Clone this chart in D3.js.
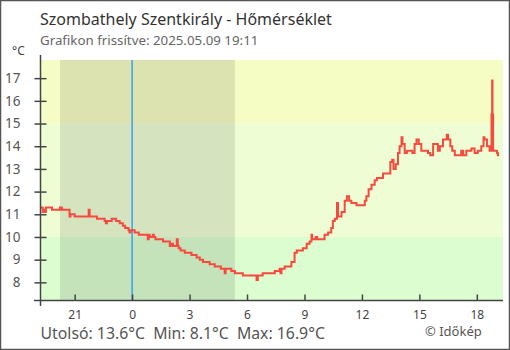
<!DOCTYPE html>
<html>
<head>
<meta charset="utf-8">
<script src="https://cdn.jsdelivr.net/npm/d3@7"></script>
<style>
  html, body { margin: 0; padding: 0; background: #fff; }
  svg { display: block; font-family: "Noto Sans", "Open Sans", sans-serif; }
</style>
</head>
<body>
<svg id="chart" width="510" height="350"></svg>
<script>
// Station readings, 2025-05-08 19:13 → 2025-05-09 19:10 (local time, HH:MM)
const times = [
  "19:13","19:20","19:24","19:27","19:30","19:49","20:14","20:20","20:44","20:47",
  "21:00","21:41","21:44","21:47","22:10","22:23","22:34","22:38","22:41","22:49",
  "22:56","23:10","23:21","23:31","23:38","23:49","23:52","23:55","00:08","00:21",
  "00:49","00:52","00:55","01:05","01:08","01:13","01:37","01:58","02:01","02:08",
  "02:20","02:23","02:26","02:32","02:45","03:06","03:22","03:32","03:42","04:03",
  "04:19","04:38","04:50","04:53","05:11","05:22","05:47","06:30","06:34","06:49",
  "07:27","07:42","07:45","07:48","07:58","08:19","08:29","08:36","08:55","09:07",
  "09:16","09:22","09:24","09:35","09:40","09:48","10:03","10:14","10:24","10:29",
  "10:35","10:42","10:45","10:56","11:06","11:13","11:20","11:27","11:43","12:09",
  "12:14","12:21","12:30","12:40","12:47","13:06","13:29","13:35","13:39","13:46",
  "13:53","13:58","14:04","14:07","14:14","14:21","14:38","14:45","14:51","14:58",
  "15:06","15:27","15:34","15:43","15:58","16:04","16:14","16:26","16:30","16:37",
  "16:43","16:51","17:11","17:17","17:27","17:43","17:53","18:03","18:14","18:21",
  "18:24","18:32","18:40","18:46","18:48","18:49","18:51","19:03","19:06","19:10"
];
const temps = [
  11.3, 11.1, 11.2, 11.1, 11.3, 11.2, 11.3, 11.2, 10.9, 11.0,
  10.9, 10.9, 11.2, 10.9, 10.8, 10.8, 10.7, 10.6, 10.7, 10.7,
  10.8, 10.7, 10.6, 10.5, 10.4, 10.3, 10.2, 10.3, 10.2, 10.1,
  9.9, 10.1, 10.0, 10.1, 10.0, 9.9, 9.8, 9.6, 9.7, 9.6,
  9.9, 9.6, 9.5, 9.4, 9.3, 9.2, 9.1, 9.0, 8.9, 8.8,
  8.7, 8.6, 8.4, 8.6, 8.5, 8.4, 8.3, 8.1, 8.3, 8.4,
  8.5, 8.6, 8.4, 8.6, 8.7, 8.9, 9.3, 9.4, 9.5, 9.7,
  9.8, 10.1, 9.9, 10.0, 9.9, 9.9, 10.1, 10.2, 10.4, 10.7,
  10.8, 11.5, 10.9, 11.1, 11.6, 11.8, 11.6, 11.5, 11.4, 11.6,
  11.8, 12.1, 12.3, 12.5, 12.6, 12.8, 13.3, 13.4, 13.0, 13.2,
  13.7, 14.0, 14.4, 14.1, 13.7, 13.8, 13.7, 14.1, 14.3, 14.1,
  13.8, 13.7, 13.6, 14.1, 13.8, 14.0, 14.3, 14.5, 14.3, 14.0,
  13.8, 13.6, 13.8, 13.6, 13.8, 13.9, 13.7, 13.8, 14.0, 14.4,
  14.3, 14.0, 13.8, 15.4, 16.9, 15.4, 13.8, 13.7, 13.6, 13.6
];
const yTicks = [8, 9, 10, 11, 12, 13, 14, 15, 16, 17];
const bandLimits = [10, 15];            // temperature bands for background
const sunset = "2025-05-08 20:14";
const sunrise = "2025-05-09 05:22";
const titleText = "Szombathely Szentkirály - Hőmérséklet";
const subtitleText = "Grafikon frissítve: 2025.05.09 19:11";
const summaryText = "Utolsó: 13.6°C  Min: 8.1°C  Max: 16.9°C";

const parse = d3.timeParse("%Y-%m-%d %H:%M");

// Rebuild full timestamps: the series rolls over midnight once
let day = 8, prev = -1;
const data = times.map((t, i) => {
  const [h, m] = t.split(":").map(Number);
  const mins = h * 60 + m;
  if (mins < prev) day += 1;
  prev = mins;
  return { date: new Date(2025, 4, day, h, m), temp: temps[i] };
});

const svg = d3.select("#chart");
const plotL = 40.5, plotR = 503, plotT = 60, plotB = 300.5;

const x = d3.scaleTime()
  .domain([new Date(2025, 4, 8, 19, 13), new Date(2025, 4, 9, 19, 22)])
  .range([plotL, plotR]);
const y = d3.scaleLinear().domain([7.2, 17.8]).range([plotB, plotT]);

// Frame
svg.append("rect").attr("x", 0.5).attr("y", 0.5).attr("width", 509).attr("height", 349)
  .attr("fill", "#fff").attr("stroke", "#555").attr("stroke-width", 1.5);

// Background temperature bands
const bands = [
  { lo: y.domain()[0], hi: bandLimits[0], color: "#dcfdd0" },
  { lo: bandLimits[0], hi: bandLimits[1], color: "#eefdd4" },
  { lo: bandLimits[1], hi: y.domain()[1], color: "#f5fdc4" }
];
svg.append("g").selectAll("rect").data(bands).join("rect")
  .attr("x", plotL).attr("width", plotR - plotL)
  .attr("y", d => y(d.hi)).attr("height", d => y(d.lo) - y(d.hi))
  .attr("fill", d => d.color);

// Night shading
svg.append("rect")
  .attr("x", x(parse(sunset))).attr("width", x(parse(sunrise)) - x(parse(sunset)))
  .attr("y", plotT).attr("height", plotB - plotT)
  .attr("fill", "rgba(0,0,0,0.1)");

// Midnight marker
const midnight = new Date(2025, 4, 9, 0, 0);
svg.append("line")
  .attr("x1", x(midnight)).attr("x2", x(midnight))
  .attr("y1", plotT).attr("y2", plotB)
  .attr("stroke", "#2196f3").attr("stroke-width", 1.3);

// Temperature line
const line = d3.line()
  .x(d => x(d.date)).y(d => y(d.temp))
  .curve(d3.curveStepAfter);
svg.append("path").datum(data)
  .attr("d", line)
  .attr("fill", "none")
  .attr("stroke", "#f54a3d")
  .attr("stroke-width", 2);

// Y axis
const yAxis = svg.append("g").attr("transform", `translate(${plotL},0)`)
  .call(d3.axisLeft(y).tickValues(yTicks).tickFormat(d3.format("d")).tickSize(6).tickPadding(14));
yAxis.select(".domain").remove();
yAxis.selectAll(".tick line").attr("x1", -6).attr("x2", 6).attr("stroke", "#444").attr("stroke-width", 1.5);
yAxis.selectAll(".tick text").attr("fill", "#555").attr("font-size", 13.5)
  .attr("font-family", "Noto Sans, sans-serif");
svg.append("line").attr("x1", plotL).attr("x2", plotL).attr("y1", 55).attr("y2", 306)
  .attr("stroke", "#444").attr("stroke-width", 1.5);

// X axis
const xAxis = svg.append("g").attr("transform", `translate(0,${plotB})`)
  .call(d3.axisBottom(x).ticks(d3.timeHour.every(3)).tickFormat(d3.timeFormat("%-H"))
    .tickSizeInner(-6).tickSizeOuter(0).tickPadding(10.2));
xAxis.select(".domain").remove();
xAxis.selectAll(".tick line").attr("stroke", "#444").attr("stroke-width", 1.5);
xAxis.selectAll(".tick text").attr("fill", "#444").attr("font-size", 12)
  .attr("font-family", "Noto Sans, sans-serif");
svg.append("line").attr("x1", 34).attr("x2", plotR).attr("y1", plotB).attr("y2", plotB)
  .attr("stroke", "#444").attr("stroke-width", 1.5);

// Texts
svg.append("text").attr("x", 40).attr("y", 24.5).attr("font-size", 16).attr("fill", "#333")
  .text(titleText);
svg.append("text").attr("x", 40).attr("y", 45).attr("font-size", 13.3).attr("fill", "#666")
  .text(subtitleText);
svg.append("text").attr("x", 12).attr("y", 55).attr("font-size", 12).attr("fill", "#444")
  .text("°C");
svg.append("text").attr("x", 40.5).attr("y", 339.4).attr("font-size", 15.8).attr("fill", "#555")
  .attr("xml:space", "preserve").style("white-space", "pre")
  .text(summaryText);
svg.append("text").attr("x", 425).attr("y", 336.4).attr("font-size", 13).attr("fill", "#555")
  .text("© Időkép");
</script>
</body>
</html>
